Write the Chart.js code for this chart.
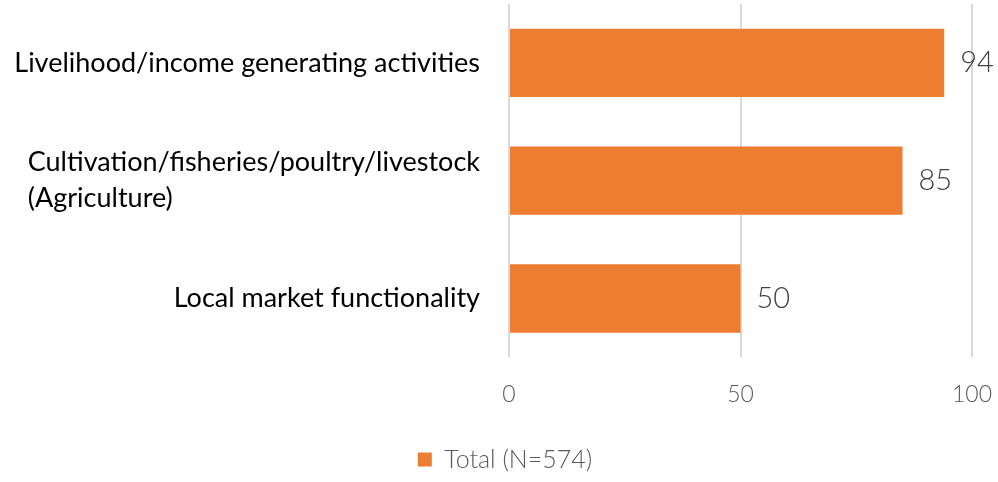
<!DOCTYPE html>
<html>
<head>
<meta charset="utf-8">
<script src="https://cdn.jsdelivr.net/npm/chart.js@4"></script>
<style>
  html, body { margin: 0; padding: 0; background: #fff; }
  #wrap { width: 998px; height: 482px; }
</style>
</head>
<body>
<div id="wrap"><canvas id="chart"></canvas></div>
<script>
const categories = [
  ["Livelihood/income generating activities"],
  ["Cultivation/fisheries/poultry/livestock", "(Agriculture)"],
  ["Local market functionality"]
];
const totalValues = [94, 85, 50];
const seriesName = "Total (N=574)";
const xTicks = [0, 50, 100];

// category labels: block right-aligned, lines left-aligned (like the original)
const catLabels = {
  id: "catLabels",
  afterDraw(chart) {
    const ctx = chart.ctx;
    const y = chart.scales.y;
    const right = chart.chartArea.left - 29;
    const lineH = 36;
    ctx.save();
    ctx.font = "27px Lato";
    ctx.fillStyle = "#000";
    ctx.textBaseline = "middle";
    ctx.textAlign = "left";
    categories.forEach((lines, i) => {
      const w = Math.max(...lines.map(l => ctx.measureText(l).width));
      const cy = y.getPixelForValue(i);
      const top = cy - (lines.length - 1) * lineH / 2;
      lines.forEach((l, j) => ctx.fillText(l, right - w, top + j * lineH));
    });
    ctx.restore();
  }
};

// value labels next to the bar ends
const valueLabels = {
  id: "valueLabels",
  afterDatasetsDraw(chart) {
    const ctx = chart.ctx;
    ctx.save();
    ctx.font = "300 29px Lato";
    ctx.fillStyle = "#404040";
    ctx.textBaseline = "middle";
    ctx.textAlign = "left";
    chart.getDatasetMeta(0).data.forEach((bar, i) => {
      ctx.fillText(String(totalValues[i]), bar.x + 16, bar.y);
    });
    ctx.restore();
  }
};

new Chart("chart", {
  type: "bar",
  data: {
    labels: categories.map(c => c.join(" ")),
    datasets: [{
      label: seriesName,
      data: totalValues,
      backgroundColor: "#ED7D31",
      borderWidth: 0,
      categoryPercentage: 1,
      barPercentage: 0.58
    }]
  },
  options: {
    indexAxis: "y",
    responsive: true,
    maintainAspectRatio: false,
    animation: false,
    layout: { padding: { top: 4, right: 26, left: 38, bottom: 0 } },
    scales: {
      x: {
        min: 0,
        max: 100,
        afterBuildTicks(scale) {
          scale.ticks = xTicks.map(v => ({ value: v }));
        },
        afterFit(scale) { scale.height += 34; },
        grid: {
          color: "#d9d9d9",
          lineWidth: 2,
          drawTicks: true,
          tickLength: 23,
          tickColor: "rgba(0,0,0,0)"
        },
        border: { display: false },
        ticks: {
          padding: 0,
          color: "#595959",
          font: { family: "Lato", size: 23, weight: "300" }
        }
      },
      y: {
        grid: { display: false, drawTicks: false },
        border: { display: false },
        ticks: { display: false },
        afterFit(scale) { scale.width = 471; }
      }
    },
    plugins: {
      legend: {
        position: "bottom",
        labels: {
          boxWidth: 14,
          boxHeight: 14,
          padding: 5,
          color: "#595959",
          font: { family: "Lato", size: 25, weight: "300" }
        }
      },
      tooltip: { enabled: false }
    }
  },
  plugins: [catLabels, valueLabels]
});
</script>
</body>
</html>
